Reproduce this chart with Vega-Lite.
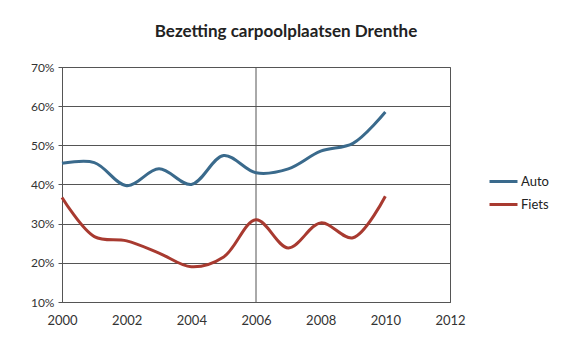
{
  "$schema": "https://vega.github.io/schema/vega-lite/v6.json",
  "width": 388,
  "height": 235,
  "autosize": "none",
  "padding": {"left": 62, "top": 67, "right": 114, "bottom": 35},
  "background": "white",
  "config": {
    "font": "Lato",
    "view": {"stroke": "#555", "strokeWidth": 1},
    "axis": {"labelFont": "Lato", "labelColor": "#333", "labelFontSize": 12, "domainColor": "#555", "tickColor": "#555", "gridColor": "#555", "gridOpacity": 1}
  },
  "title": {
    "text": "Bezetting carpoolplaatsen Drenthe",
    "font": "Lato",
    "fontSize": 17,
    "fontWeight": "bold",
    "color": "#222",
    "anchor": "middle",
    "dx": 30,
    "offset": 20
  },
  "layer": [
    {
      "data": {"values": [{"year": 2006}]},
      "mark": {"type": "rule", "color": "#555", "strokeWidth": 1},
      "encoding": {
        "x": {
          "field": "year", "type": "quantitative",
          "scale": {"domain": [2000, 2012], "nice": false},
          "axis": {"title": null, "values": [2000, 2002, 2004, 2006, 2008, 2010, 2012], "format": "d", "grid": false, "ticks": false, "labelFlush": false, "labelPadding": 12, "labelFontSize": 13}
        }
      }
    },
    {
      "data": {
        "values": [
          {"year": 2000, "series": "Auto", "value": 0.454},
          {"year": 2001, "series": "Auto", "value": 0.456},
          {"year": 2002, "series": "Auto", "value": 0.397},
          {"year": 2003, "series": "Auto", "value": 0.44},
          {"year": 2004, "series": "Auto", "value": 0.40},
          {"year": 2005, "series": "Auto", "value": 0.474},
          {"year": 2006, "series": "Auto", "value": 0.43},
          {"year": 2007, "series": "Auto", "value": 0.44},
          {"year": 2008, "series": "Auto", "value": 0.485},
          {"year": 2009, "series": "Auto", "value": 0.505},
          {"year": 2010, "series": "Auto", "value": 0.585},
          {"year": 2000, "series": "Fiets", "value": 0.367},
          {"year": 2001, "series": "Fiets", "value": 0.267},
          {"year": 2002, "series": "Fiets", "value": 0.256},
          {"year": 2003, "series": "Fiets", "value": 0.225},
          {"year": 2004, "series": "Fiets", "value": 0.19},
          {"year": 2005, "series": "Fiets", "value": 0.215},
          {"year": 2006, "series": "Fiets", "value": 0.31},
          {"year": 2007, "series": "Fiets", "value": 0.238},
          {"year": 2008, "series": "Fiets", "value": 0.302},
          {"year": 2009, "series": "Fiets", "value": 0.264},
          {"year": 2010, "series": "Fiets", "value": 0.37}
        ]
      },
      "mark": {"type": "line", "interpolate": "catmull-rom", "strokeWidth": 3},
      "encoding": {
        "x": {
          "field": "year", "type": "quantitative",
          "scale": {"domain": [2000, 2012], "nice": false},
          "axis": {"title": null, "values": [2000, 2002, 2004, 2006, 2008, 2010, 2012], "format": "d", "grid": false, "ticks": false, "labelFlush": false, "labelPadding": 12, "labelFontSize": 13}
        },
        "y": {
          "field": "value", "type": "quantitative",
          "scale": {"domain": [0.1, 0.7], "nice": false},
          "axis": {"title": null, "values": [0.1, 0.2, 0.3, 0.4, 0.5, 0.6, 0.7], "format": ".0%", "grid": true, "tickSize": 4, "labelPadding": 4, "labelFontSize": 12}
        },
        "color": {
          "field": "series", "type": "nominal",
          "scale": {"domain": ["Auto", "Fiets"], "range": ["#3a6a8c", "#a83a30"]},
          "legend": {"title": null, "orient": "none", "legendX": 426, "legendY": 99, "symbolType": "stroke", "symbolSize": 784, "symbolStrokeWidth": 3, "rowPadding": 0, "labelFontSize": 13, "labelColor": "#222", "labelOffset": 2}
        }
      }
    }
  ]
}
